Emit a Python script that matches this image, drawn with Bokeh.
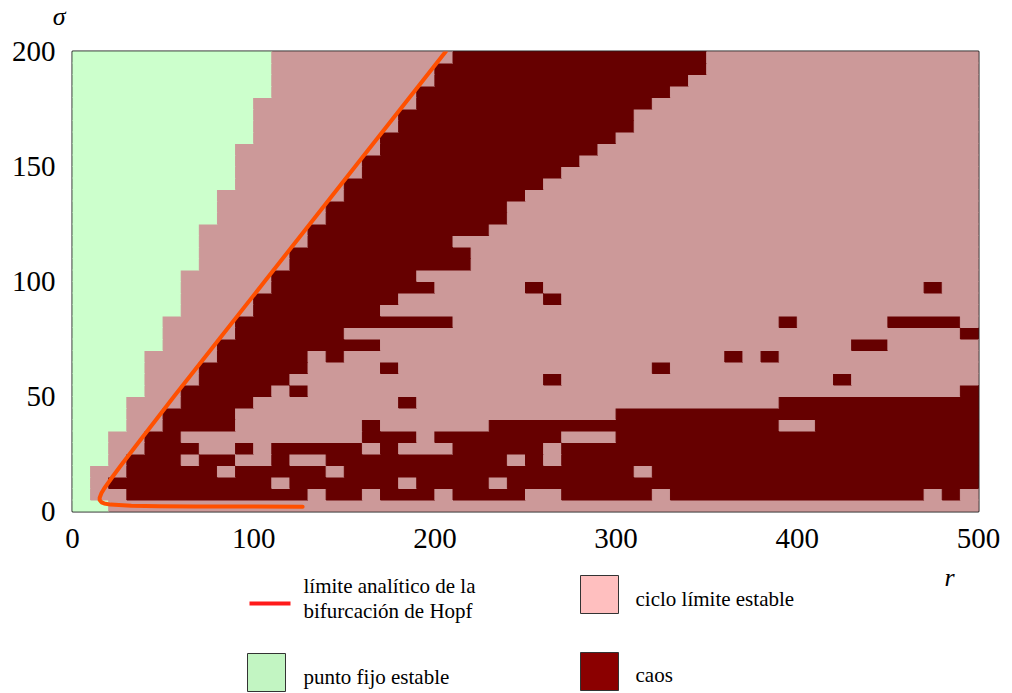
from bokeh.plotting import figure
from bokeh.models import Range1d, FixedTicker
from bokeh.layouts import column
from bokeh.embed import file_html
from bokeh.resources import INLINE
from bokeh.core.properties import value

# ---------------- data ----------------
r_step = 10          # width of a grid cell in r
sigma_step = 5       # height of a grid cell in sigma
r_range = (0, 500)
sigma_range = (0, 200)
# regime of every cell, one string per sigma row, bottom (sigma 0-5) to top (195-200)
# g = punto fijo estable, p = ciclo limite estable, c = caos
regime_rows = [
    "ggpppppppp" "pppppppppp" "pppppppppp" "pppppppppp" "pppppppppp",  # 0
    "gppccccccc" "cccpccpccc" "pccccppccc" "ccpccccccc" "cccccccpcp",  # 5
    "gpcccccccc" "cpccccccpc" "cccpcccccc" "cccccccccc" "cccccccccc",  # 10
    "gppcccccpc" "ccccpccccc" "cccccccccc" "cpcccccccc" "cccccccccc",  # 15
    "ggpcccpccp" "pcppcccccc" "ccccpcpccc" "cccccccccc" "cccccccccc",  # 20
    "ggppcccppc" "pcccccpcpp" "pcccccpccc" "cccccccccc" "cccccccccc",  # 25
    "ggppccpppp" "ppppppcccp" "cccccccppp" "cccccccccc" "cccccccccc",  # 30
    "gggppccccp" "ppppppcppp" "pppccccccc" "cccccccccp" "pccccccccc",  # 35
    "gggppccccp" "pppppppppp" "pppppppppp" "cccccccccc" "cccccccccc",  # 40
    "gggpppcccc" "ppppppppcp" "pppppppppp" "pppppppppc" "cccccccccc",  # 45
    "ggggppcccc" "cpcppppppp" "pppppppppp" "pppppppppp" "pppppppppc",  # 50
    "ggggpppccc" "ccpppppppp" "ppppppcppp" "pppppppppp" "ppcppppppp",  # 55
    "ggggpppccc" "cccppppcpp" "pppppppppp" "ppcppppppp" "pppppppppp",  # 60
    "ggggppppcc" "cccpcppppp" "pppppppppp" "ppppppcpcp" "pppppppppp",  # 65
    "gggggpppcc" "cccccccppp" "pppppppppp" "pppppppppp" "pppccppppp",  # 70
    "gggggppppc" "cccccppppp" "pppppppppp" "pppppppppp" "pppppppppc",  # 75
    "gggggppppc" "cccccccccc" "cppppppppp" "pppppppppc" "pppppccccp",  # 80
    "ggggggpppp" "cccccccppp" "pppppppppp" "pppppppppp" "pppppppppp",  # 85
    "ggggggpppp" "ccccccccpp" "ppppppcppp" "pppppppppp" "pppppppppp",  # 90
    "ggggggpppp" "pccccccccc" "pppppcpppp" "pppppppppp" "pppppppcpp",  # 95
    "ggggggpppp" "pccccccccp" "pppppppppp" "pppppppppp" "pppppppppp",  # 100
    "gggggggppp" "ppcccccccc" "ccpppppppp" "pppppppppp" "pppppppppp",  # 105
    "gggggggppp" "ppcccccccc" "ccpppppppp" "pppppppppp" "pppppppppp",  # 110
    "gggggggppp" "pppccccccc" "cppppppppp" "pppppppppp" "pppppppppp",  # 115
    "gggggggppp" "pppccccccc" "cccppppppp" "pppppppppp" "pppppppppp",  # 120
    "ggggggggpp" "ppppcccccc" "ccccpppppp" "pppppppppp" "pppppppppp",  # 125
    "ggggggggpp" "ppppcccccc" "ccccpppppp" "pppppppppp" "pppppppppp",  # 130
    "ggggggggpp" "pppppccccc" "cccccppppp" "pppppppppp" "pppppppppp",  # 135
    "gggggggggp" "pppppccccc" "ccccccpppp" "pppppppppp" "pppppppppp",  # 140
    "gggggggggp" "ppppppcccc" "cccccccppp" "pppppppppp" "pppppppppp",  # 145
    "gggggggggp" "ppppppcccc" "ccccccccpp" "pppppppppp" "pppppppppp",  # 150
    "gggggggggp" "pppppppccc" "cccccccccp" "pppppppppp" "pppppppppp",  # 155
    "gggggggggg" "pppppppccc" "cccccccccc" "pppppppppp" "pppppppppp",  # 160
    "gggggggggg" "ppppppppcc" "cccccccccc" "cppppppppp" "pppppppppp",  # 165
    "gggggggggg" "ppppppppcc" "cccccccccc" "cppppppppp" "pppppppppp",  # 170
    "gggggggggg" "pppppppppc" "cccccccccc" "ccpppppppp" "pppppppppp",  # 175
    "gggggggggg" "gppppppppc" "cccccccccc" "cccppppppp" "pppppppppp",  # 180
    "gggggggggg" "gppppppppp" "cccccccccc" "ccccpppppp" "pppppppppp",  # 185
    "gggggggggg" "gppppppppp" "cccccccccc" "cccccppppp" "pppppppppp",  # 190
    "gggggggggg" "gppppppppp" "pccccccccc" "cccccppppp" "pppppppppp",  # 195
]
regime_colors = {"g": "#ccffcc", "p": "#cc9999", "c": "#660000"}

# analytic Hopf bifurcation limit (r, sigma)
hopf_r = [127, 68, 48, 32.5, 21, 17.5, 16, 15, 15, 16, 17.5, 22, 26.7, 36.4, 56, 81, 106, 131, 156, 181, 206]
hopf_sigma = [2.1, 2.2, 2.3, 2.5, 3, 3.5, 4, 5, 6, 8, 10, 15, 20, 30, 50, 75, 100, 125, 150, 175, 200]

x_ticks = [0, 100, 200, 300, 400, 500]
y_ticks = [0, 50, 100, 150, 200]

legend_labels = ["límite analítico de la", "bifurcación de Hopf",
                 "ciclo límite estable", "punto fijo estable", "caos"]
legend_colors = {"hopf": "#ff1a1a", "p": "#ffbfbf", "g": "#c2f5c2", "c": "#8b0000"}

SERIF = "Liberation Serif"
W = 1012
BL, BR = 72, 34   # left / right borders shared by all strips

# ---------------- top strip: the sigma axis title ----------------
top = figure(width=W, height=31, x_range=Range1d(0, 1), y_range=Range1d(0, 1),
             output_backend="svg", toolbar_location=None,
             min_border_left=BL, min_border_right=BR, min_border_top=0, min_border_bottom=0,
             x_axis_location=None, y_axis_location="left")
top.grid.visible = False
top.outline_line_color = None
top.background_fill_color = "white"
top.border_fill_color = "white"
ya = top.yaxis[0]
ya.ticker = FixedTicker(ticks=[])
ya.axis_line_color = None
ya.major_tick_line_color = None
ya.minor_tick_line_color = None
ya.major_tick_out = 0
ya.axis_label = "σ"
ya.axis_label_orientation = "horizontal"
ya.axis_label_standoff = 7
ya.axis_label_text_font = SERIF
ya.axis_label_text_font_style = "italic"
ya.axis_label_text_font_size = "26px"
ya.axis_label_text_color = "black"

# ---------------- main figure ----------------
p = figure(width=W, height=530, x_range=Range1d(*r_range), y_range=Range1d(*sigma_range),
           output_backend="svg", toolbar_location=None,
           min_border_left=BL, min_border_right=BR, min_border_top=20, min_border_bottom=50)
p.background_fill_color = regime_colors["p"]
p.border_fill_color = "white"
p.grid.visible = False
p.outline_line_color = "#222222"
p.outline_line_width = 2

# merge horizontal runs of equal regime into single quads
L, R, B, T, F = [], [], [], [], []
for k, row in enumerate(regime_rows):
    c = 0
    while c < len(row):
        ch = row[c]
        e = c
        while e + 1 < len(row) and row[e + 1] == ch:
            e += 1
        L.append(c * r_step)
        R.append((e + 1) * r_step)
        B.append(k * sigma_step)
        T.append((k + 1) * sigma_step)
        F.append(regime_colors[ch])
        c = e + 1
p.quad(left=L, right=R, bottom=B, top=T, fill_color=F, line_color=F, line_width=1)

p.line(hopf_r, hopf_sigma, line_color="#ff5000", line_width=4, line_join="round", line_cap="round")

for ax in (p.xaxis, p.yaxis):
    ax.axis_line_color = None
    ax.major_tick_line_color = None
    ax.minor_tick_line_color = None
    ax.major_tick_out = 0
    ax.major_tick_in = 0
    ax.major_label_text_font = SERIF
    ax.major_label_text_font_size = "29px"
    ax.major_label_text_color = "black"
p.xaxis.ticker = FixedTicker(ticks=x_ticks)
p.yaxis.ticker = FixedTicker(ticks=y_ticks)
p.xaxis.major_label_standoff = 17
p.yaxis.major_label_standoff = 17

# ---------------- legend strip (coordinates = page pixels) ----------------
leg = figure(width=W, height=132, x_range=Range1d(72, 978), y_range=Range1d(693, 561),
             output_backend="svg", toolbar_location=None,
             min_border_left=BL, min_border_right=BR, min_border_top=0, min_border_bottom=0,
             x_axis_location=None, y_axis_location=None)
leg.grid.visible = False
leg.outline_line_color = None
leg.background_fill_color = "white"
leg.border_fill_color = "white"

leg.line([249, 290], [603, 603], line_color=legend_colors["hopf"], line_width=4)
leg.quad(left=[580, 247, 580], right=[618, 285, 618], top=[575, 653, 652], bottom=[613, 691, 690],
         fill_color=[legend_colors["p"], legend_colors["g"], legend_colors["c"]],
         line_color="#333333", line_width=1)
leg.text(x=[303, 303, 635, 303, 635], y=[585, 610, 598, 676, 674], text=legend_labels,
         text_font=value(SERIF), text_font_size="21px", text_baseline="middle",
         text_align="left", text_color="black")
leg.text(x=[949], y=[577], text=["r"], text_font=value(SERIF), text_font_style="italic",
         text_font_size="26px", text_baseline="middle", text_align="center", text_color="black")

layout = column(top, p, leg, spacing=0)
open("out.html", "w").write(file_html(layout, INLINE))
